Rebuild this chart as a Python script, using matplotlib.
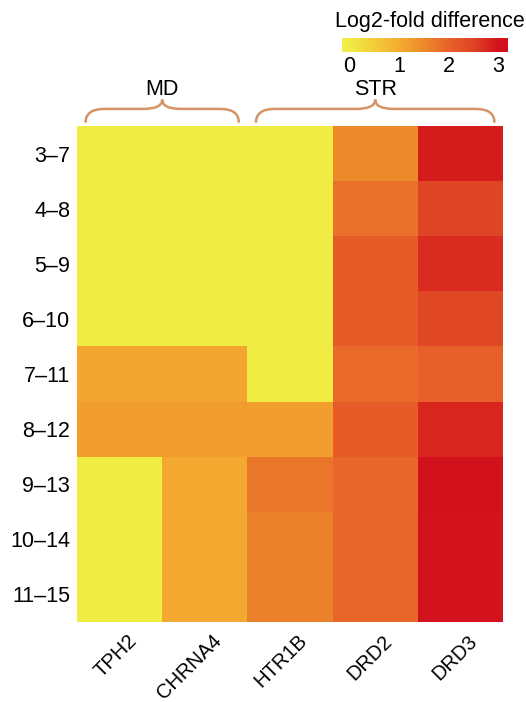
import numpy as np
import matplotlib
matplotlib.use("Agg")
from matplotlib import pyplot as plt
from matplotlib.colors import LinearSegmentedColormap, Normalize
from matplotlib.path import Path
from matplotlib.patches import PathPatch
from matplotlib.transforms import ScaledTranslation
import matplotlib.cm as cm

plt.rcParams['font.family'] = ['Liberation Sans', 'DejaVu Sans']

# data
windows = ["3–7", "4–8", "5–9", "6–10", "7–11", "8–12", "9–13", "10–14", "11–15"]
genes = ["TPH2", "CHRNA4", "HTR1B", "DRD2", "DRD3"]
tph2 = [0, 0, 0, 0, 1.1, 1.2, 0, 0, 0]
chrna4 = [0, 0, 0, 0, 1.1, 1.25, 1.05, 1.05, 1.05]
htr1b = [0, 0, 0, 0, 0, 1.2, 1.75, 1.6, 1.6]
drd2 = [1.5, 1.8, 2.1, 2.1, 1.9, 2.1, 1.95, 1.95, 1.95]
drd3 = [2.9, 2.5, 2.75, 2.45, 2.05, 2.8, 3.1, 3.05, 3.05]
groups = [("MD", 0, 1), ("STR", 2, 4)]
cbar_ticks = [0, 1, 2, 3]

vmin, vmax = -0.15, 3.2
nodes = [(-0.15, "#F2EF48"), (0, "#F0EC44"), (1, "#F4AC30"), (1.5, "#EC8A2B"),
         (2, "#E8622A"), (2.5, "#DF4424"), (3, "#D3131C"), (3.2, "#D0101C")]
cmap = LinearSegmentedColormap.from_list(
    "ylor", [((v - vmin) / (vmax - vmin), c) for v, c in nodes])
norm = Normalize(vmin, vmax)

mat = np.array([tph2, chrna4, htr1b, drd2, drd3]).T
fs = 15.5

W, H = 526, 702
fig = plt.figure(figsize=(W / 100, H / 100), dpi=100)
ax = fig.add_axes([77 / W, 1 - 622 / H, 426 / W, 496 / H])
ax.pcolormesh(mat, cmap=cmap, norm=norm)
ax.set_xlim(0, len(genes))
ax.set_ylim(len(windows), 0)
for s in ax.spines.values():
    s.set_visible(False)

ax.set_yticks(np.arange(len(windows)) + 0.5)
ax.set_yticklabels(windows, fontsize=fs)
ax.set_xticks(np.arange(len(genes)) + 0.5)
ax.set_xticklabels(genes, fontsize=14.5, rotation=45, ha='right', va='center',
                   rotation_mode='anchor')
ax.tick_params(length=0, pad=5)
ax.tick_params(axis='x', pad=0)
off = ScaledTranslation(14 / 100, -16 / 100, fig.dpi_scale_trans)
for lbl in ax.get_xticklabels():
    lbl.set_transform(lbl.get_transform() + off)

# group braces
brace_col = "#D59466"
yt, yh, yp = -0.06, -0.31, -0.48
r = 0.22
for name, c0, c1 in groups:
    x0, x1 = c0 + 0.1, c1 + 0.9
    xm = (x0 + x1) / 2
    verts = [(x0, yt), (x0, yh), (x0 + r, yh),
             (xm - r, yh), (xm, yh), (xm, yp),
             (xm, yh), (xm + r, yh),
             (x1 - r, yh), (x1, yh), (x1, yt)]
    codes = [Path.MOVETO, Path.CURVE3, Path.CURVE3,
             Path.LINETO, Path.CURVE3, Path.CURVE3,
             Path.CURVE3, Path.CURVE3,
             Path.LINETO, Path.CURVE3, Path.CURVE3]
    ax.add_patch(PathPatch(Path(verts, codes), fill=False, ec=brace_col,
                           lw=1.8, clip_on=False))
    ax.text(xm, -0.67, name, ha='center', va='center', fontsize=fs,
            clip_on=False)

# colorbar
cax = fig.add_axes([342 / W, 1 - 52 / H, 166 / W, 14 / H])
cb = fig.colorbar(cm.ScalarMappable(norm=norm, cmap=cmap), cax=cax,
                  orientation='horizontal')
cb.outline.set_visible(False)
cb.set_ticks(cbar_ticks)
cax.tick_params(length=0, labelsize=fs, pad=3)
fig.text(430 / W, 1 - 22 / H, "Log2-fold difference", ha='center',
         va='center', fontsize=fs)

fig.savefig("out.png", dpi=100)
